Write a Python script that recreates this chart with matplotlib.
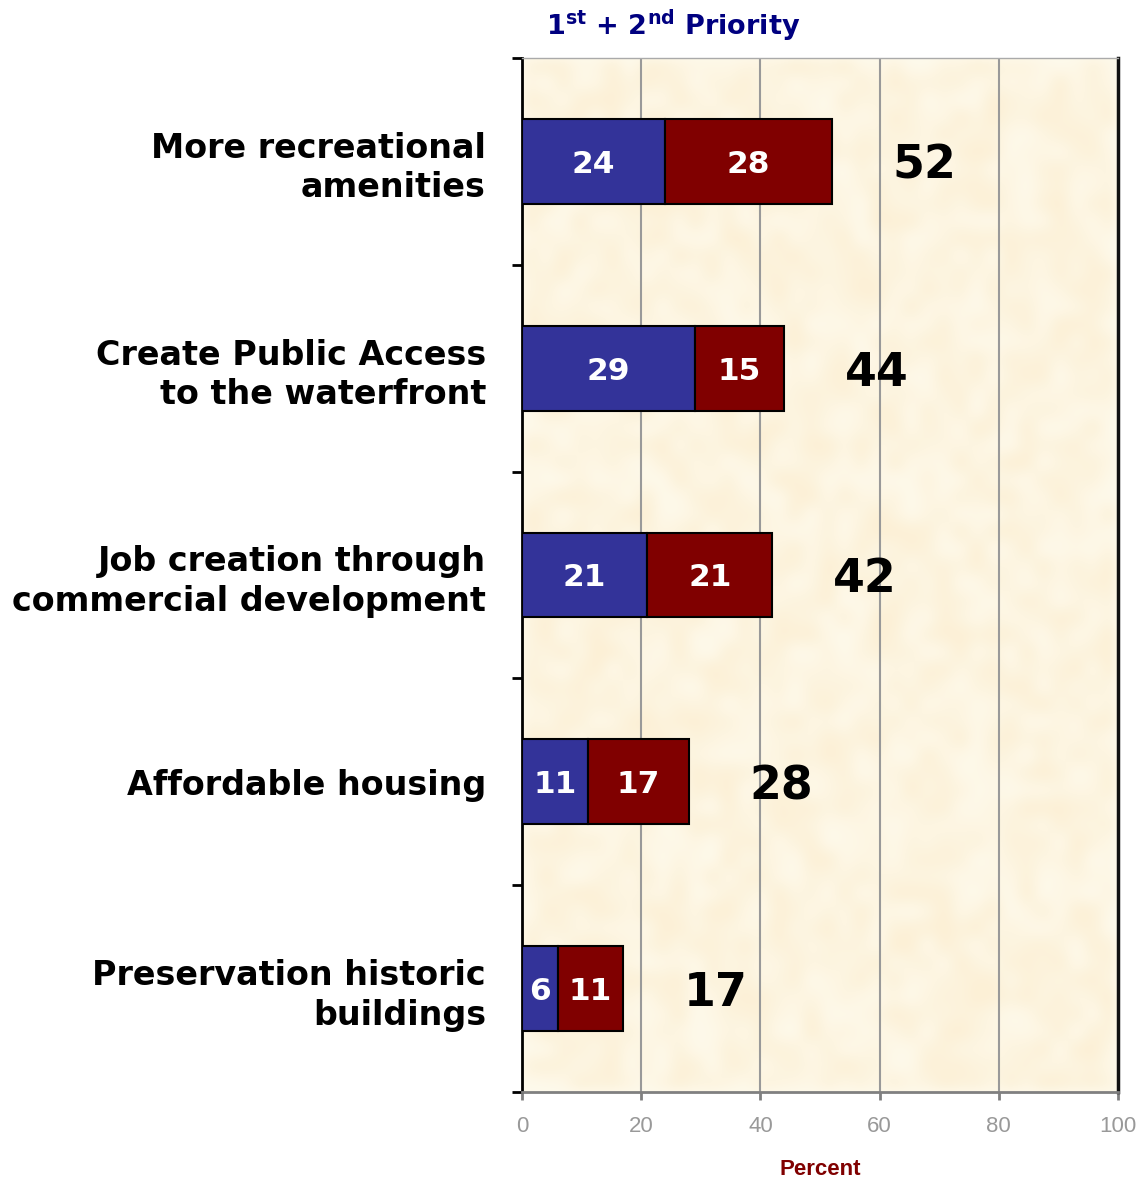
import numpy as np
import matplotlib
matplotlib.use("Agg")
import matplotlib.pyplot as plt

categories = ["More recreational\namenities",
              "Create Public Access\nto the waterfront",
              "Job creation through\ncommercial development",
              "Affordable housing",
              "Preservation historic\nbuildings"]
first = [24, 29, 21, 11, 6]
second = [28, 15, 21, 17, 11]
totals = [52, 44, 42, 28, 17]

blue = "#333399"
red = "#800000"

fig = plt.figure(figsize=(11.47, 11.78), dpi=100)
ax = fig.add_axes([0.4551, 0.0730, 0.5196, 0.8778])

# parchment-style background
rng = np.random.default_rng(7)
coarse = rng.random((60, 36))
tex = np.kron(coarse, np.ones((8, 8)))
k = np.ones(7) / 7
for _ in range(3):
    tex = np.apply_along_axis(lambda r: np.convolve(r, k, mode="same"), 0, tex)
    tex = np.apply_along_axis(lambda r: np.convolve(r, k, mode="same"), 1, tex)
tex = (tex - tex.min()) / (tex.max() - tex.min())
light = np.array([254, 250, 236]) / 255
dark = np.array([252, 240, 214]) / 255
img = light + (dark - light) * tex[..., None]
ax.imshow(img, extent=[0, 100, 5, 0], aspect="auto", zorder=0, interpolation="bilinear")

y = np.arange(len(categories)) + 0.5
h = 0.41
ax.barh(y, first, height=h, color=blue, edgecolor="black", linewidth=1.5, zorder=3)
ax.barh(y, second, left=first, height=h, color=red, edgecolor="black", linewidth=1.5, zorder=3)

for yi, a, b, t in zip(y, first, second, totals):
    ax.text(a / 2, yi, str(a), color="white", fontsize=22.5, fontweight="bold",
            ha="center", va="center_baseline", zorder=4)
    ax.text(a + b / 2, yi, str(b), color="white", fontsize=22.5, fontweight="bold",
            ha="center", va="center_baseline", zorder=4)
    ax.text(t + 15.5, yi, str(t), color="black", fontsize=33, fontweight="heavy",
            ha="center", va="center_baseline", zorder=4)

ax.set_xlim(0, 100)
ax.set_ylim(5, 0)

for gx in [20, 40, 60, 80]:
    ax.axvline(gx, color="#999999", linewidth=1.5, zorder=1)

ax.set_yticks(np.arange(0, 6))
ax.set_yticklabels([])
ax.set_yticks(y, minor=True)
ax.set_yticklabels(categories, minor=True, fontsize=24, fontweight="bold",
                   ha="right", linespacing=1.25)
ax.tick_params(axis="y", which="major", direction="out", length=7, width=2, color="black")
ax.tick_params(axis="y", which="minor", length=0, pad=26)

ax.set_xticks([0, 20, 40, 60, 80, 100])
ax.tick_params(axis="x", direction="out", length=6, width=2, color="#808080",
               labelcolor="#999999", labelsize=16, pad=11)
for lbl in ax.get_xticklabels():
    lbl.set_family("Liberation Sans")

ax.spines["left"].set_color("black")
ax.spines["left"].set_linewidth(2)
ax.spines["bottom"].set_color("#808080")
ax.spines["bottom"].set_linewidth(2)
ax.spines["top"].set_color("#aaaaaa")
ax.spines["top"].set_linewidth(1)
ax.spines["right"].set_color("#111111")
ax.spines["right"].set_linewidth(2.5)

ax.set_xlabel("Percent", color=red, fontsize=16, fontweight="bold",
              family="Liberation Sans", labelpad=16)

fig.text(0.587, 0.978, r"1$^{\mathbf{st}}$ + 2$^{\mathbf{nd}}$ Priority", color="#000080",
         fontsize=19.5, fontweight="bold", ha="center", va="center")

fig.savefig("out.png", dpi=100)
